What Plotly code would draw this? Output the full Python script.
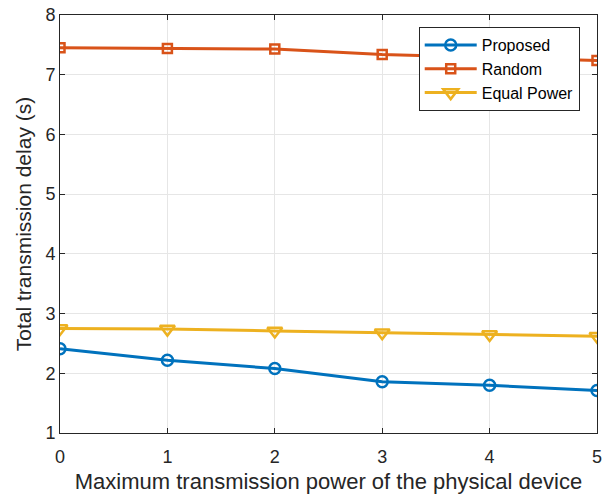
import plotly.graph_objects as go

# Datos
potencia_max = [0, 1, 2, 3, 4, 5]
retardo_propuesto = [2.41, 2.22, 2.08, 1.86, 1.80, 1.71]
retardo_aleatorio = [7.45, 7.44, 7.43, 7.34, 7.29, 7.24]
retardo_igual = [2.75, 2.74, 2.71, 2.68, 2.65, 2.62]

FUENTE = 'Liberation Sans, Arial, sans-serif'

fig = go.Figure()

# Proposed
fig.add_trace(go.Scatter(
    x=potencia_max, y=retardo_propuesto, mode='lines+markers', name='Proposed',
    line=dict(color='#0072BD', width=3),
    marker=dict(symbol='circle-open', size=11, color='#0072BD', line=dict(width=2.5))
))
# Random
fig.add_trace(go.Scatter(
    x=potencia_max, y=retardo_aleatorio, mode='lines+markers', name='Random',
    line=dict(color='#D95319', width=3),
    marker=dict(symbol='square-open', size=9, color='#D95319', line=dict(width=2.5))
))
# Equal Power
fig.add_trace(go.Scatter(
    x=potencia_max, y=retardo_igual, mode='lines+markers', name='Equal Power',
    line=dict(color='#EDB120', width=3),
    marker=dict(symbol='triangle-down-open', size=13, color='#EDB120', line=dict(width=2.5))
))

ejes = dict(
    showline=True, linecolor='#262626', linewidth=1, mirror='ticks',
    ticks='inside', ticklen=5, tickcolor='#262626',
    showgrid=True, gridcolor='#E6E6E6', gridwidth=1, zeroline=False,
    tickfont=dict(size=18, color='#262626', family=FUENTE),
    automargin=False,
)

fig.update_layout(
    width=608, height=495,
    margin=dict(l=60, r=11, t=15, b=62, autoexpand=False),
    plot_bgcolor='white', paper_bgcolor='white',
    font=dict(family=FUENTE, color='#262626'),
    showlegend=True,
    legend=dict(
        x=0.668, y=0.971, xanchor='left', yanchor='top',
        bgcolor='white', bordercolor='#262626', borderwidth=1,
        font=dict(size=16, family=FUENTE, color='black'),
        tracegroupgap=0, itemwidth=52,
    ),
)
fig.update_xaxes(range=[0, 5], dtick=1, ticklabelstandoff=7,
                 title=dict(text='Maximum transmission power of the physical device',
                            font=dict(size=22, family=FUENTE, color='#262626'), standoff=8),
                 **ejes)
fig.update_yaxes(range=[1, 8], dtick=1,
                 title=dict(text='Total transmission delay (s)',
                            font=dict(size=21, family=FUENTE, color='#262626'), standoff=8),
                 **ejes)

# Quitamos el margen del body para que el gráfico empiece en (0, 0)
fig.write_html('out.html', config={'displayModeBar': False},
               post_script="document.body.style.margin='0';")
